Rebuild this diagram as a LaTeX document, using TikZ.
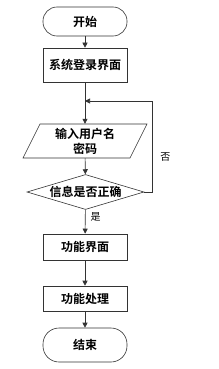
\documentclass[tikz,border=0pt]{standalone}
\usepackage{fontspec}
\newfontfamily\cjk{Noto Sans CJK SC}
\newfontfamily\cjkb{Noto Sans CJK SC Bold}
\usetikzlibrary{shapes.geometric,arrows.meta}
\begin{document}
\begin{tikzpicture}[x=1pt,y=-1pt,
  every node/.style={font=\cjkb\fontsize{12}{15}\selectfont, inner sep=0pt},
  boxed/.style={draw=black!80, line width=0.6pt, minimum width=84pt},
  term/.style={boxed, rounded corners=14pt},
  arr/.style={draw=black!80, line width=0.6pt, -{Triangle[length=5pt,width=5pt]}},
  lbl/.style={font=\cjk\fontsize{10}{12}\selectfont}]
\useasboundingbox (0,0) rectangle (218,369);
\node[term, minimum height=29pt] (start) at (85,21.5) {开始};
\node[boxed, minimum height=34pt] (login) at (85,65) {系统登录界面};
\node[minimum width=107pt, minimum height=34pt, align=center] (input) at (85,141) {输入用户名\\密码};
\draw[draw=black!80, line width=0.6pt] (23,158) -- (40,124) -- (147,124) -- (130,158) -- cycle;
\node[diamond, draw=black!80, line width=0.6pt, minimum width=117pt, minimum height=35pt, aspect=3.3] (check) at (85.5,192) {信息是否正确};
\node[boxed, minimum height=26pt] (func) at (85,247) {功能界面};
\node[boxed, minimum height=25pt] (proc) at (85,298.5) {功能处理};
\node[term, minimum height=34pt, rounded corners=16pt] (end) at (85,345) {结束};
\coordinate (j) at (85,101);
\coordinate (r1) at (152,192);
\coordinate (r2) at (152,101);
\draw[arr] (start) -- (login);
\draw[arr] (login) -- (input);
\draw[arr] (input) -- (check);
\draw[arr] (check) -- node[lbl, right=5pt, pos=0.3] {是} (func);
\draw[arr] (func) -- (proc);
\draw[arr] (proc) -- (end);
\draw[arr] (check.east) -- (r1) -- node[lbl, right=8pt, pos=0.38] {否} (r2) -- (j);
\end{tikzpicture}
\end{document}
